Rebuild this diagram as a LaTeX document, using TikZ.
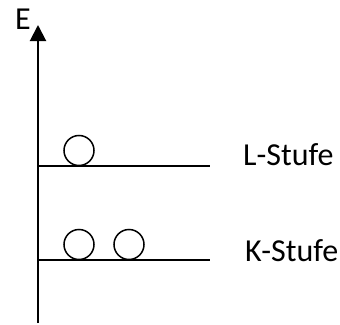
\documentclass[tikz,border=0pt]{standalone}
\usepackage{fontspec}
\setmainfont{Carlito}
\usetikzlibrary{arrows.meta}
\begin{document}
\begin{tikzpicture}[x=1pt,y=-1pt,
  level/.style={line width=1.6pt},
  electron/.style={circle,draw,line width=1.5pt,minimum size=30pt,inner sep=0pt},
  lbl/.style={font=\fontsize{32}{32}\selectfont,inner sep=0pt,anchor=base west}]
\useasboundingbox (0,0) rectangle (340,324);
\coordinate (ax0) at (38,323);
\coordinate (ax1) at (38,25);
\draw[line width=2pt,-{Triangle[length=16pt,width=16pt]}] (ax0) -- (ax1);
\node[lbl] (E) at (15,29) {E};
\coordinate (L0) at (37,166);
\coordinate (L1) at (210,166);
\draw[level] (L0) -- (L1);
\coordinate (K0) at (37,260);
\coordinate (K1) at (210,260);
\draw[level] (K0) -- (K1);
\node[electron] (eL) at (79,150.5) {};
\node[electron] (eK1) at (79,244.5) {};
\node[electron] (eK2) at (129,244.5) {};
\node[lbl] (Ltxt) at (243,165) {L-Stufe};
\node[lbl] (Ktxt) at (245,261) {K-Stufe};
\end{tikzpicture}
\end{document}
